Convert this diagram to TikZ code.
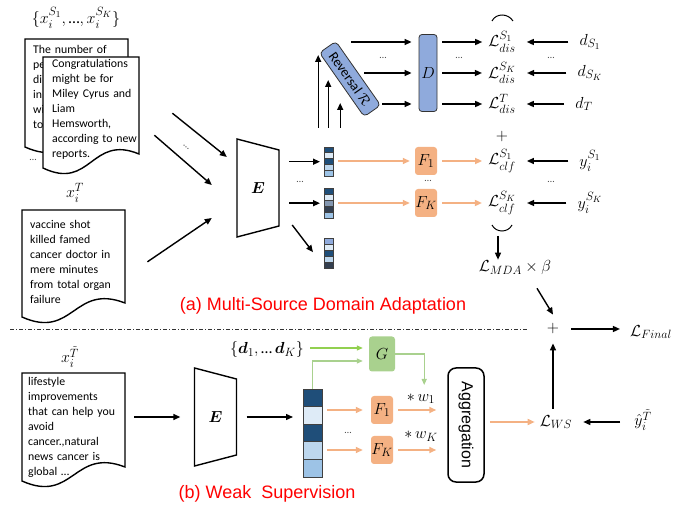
\RequirePackage{fix-cm}
\documentclass[tikz,border=0pt]{standalone}
\usepackage{amsmath,bm}
\usepackage{fontspec}
\setmainfont{Carlito}
\newfontfamily\arialfont{Liberation Sans}
\usetikzlibrary{arrows.meta, positioning, calc}
\DeclareMathSizes{16}{16}{12}{9}

\definecolor{navy}    {HTML}{1F4E79}
\definecolor{pale}    {HTML}{DEEBF7}
\definecolor{skyb}    {HTML}{BDD7EE}
\definecolor{midb}    {HTML}{9DC3E6}
\definecolor{slate}   {HTML}{8497B0}
\definecolor{charc}   {HTML}{333F50}
\definecolor{peri}    {HTML}{8FAADC}
\definecolor{orangebox}{HTML}{F4B183}
\definecolor{orangeln}{HTML}{F4B183}
\definecolor{greenbox}{HTML}{A9D18E}
\definecolor{greenln} {HTML}{A9D18E}
\definecolor{greenhi} {HTML}{92D050}
\definecolor{capred}  {HTML}{FF0000}

\tikzset{
  arr/.style     = {-{Triangle[length=7pt,width=6pt]}, line width=1.4pt},
  oarr/.style    = {arr, draw=orangeln, line width=1.6pt},
  garr/.style    = {-{Triangle[length=6pt,width=5pt]}, line width=1.3pt, draw=greenln},
  paper/.style   = {draw, line width=1.4pt, fill=white},
  enc/.style     = {draw, line width=1.4pt, fill=white},
  encname/.style = {minimum width=42pt, minimum height=77pt, inner sep=0,
                    font=\fontsize{16}{18}\selectfont},
  doctext/.style = {anchor=north west, inner sep=0, text width=100pt, align=left,
                    font=\fontsize{11.8}{15}\selectfont},
  lab/.style     = {inner sep=1pt, font=\fontsize{16}{18}\selectfont},
  dots/.style    = {inner sep=0, font=\fontsize{10}{10}\selectfont, text=black!70},
  cell/.style    = {draw=black!75, line width=0.6pt},
  revbox/.style  = {draw=black!80, line width=0.8pt, fill=peri, rounded corners=4pt,
                    minimum width=78pt, minimum height=20pt, inner sep=1pt,
                    font=\fontsize{14}{16}\selectfont},
  dbox/.style    = {draw=black!80, line width=0.8pt, fill=peri, rounded corners=3pt,
                    minimum width=18pt, minimum height=77pt, inner sep=0,
                    font=\fontsize{16}{18}\selectfont},
  fbox/.style    = {fill=orangebox, rounded corners=3pt, minimum width=22pt,
                    minimum height=28pt, inner sep=0, font=\fontsize{16}{18}\selectfont},
  gbox/.style    = {fbox, fill=greenbox, minimum width=26pt, minimum height=35pt},
  aggbox/.style  = {draw, line width=1.5pt, rounded corners=8pt, fill=white,
                    minimum width=114pt, minimum height=36pt, inner sep=0,
                    font=\arialfont\fontsize{16}{18}\selectfont},
  captxt/.style  = {text=capred, inner sep=0, font=\arialfont\fontsize{18}{20}\selectfont},
  divider/.style = {line width=0.8pt, draw=black!80,
                    dash pattern=on 4pt off 2pt on 1pt off 2pt},
  arcline/.style = {line width=1pt},
}

% sheet of text with a wavy lower edge: left, top, right, bottom-left
\newcommand{\paper}[4]{%
  \draw[paper] ({#1},{#4}) -- ({#1},{#2}) -- ({#3},{#2}) -- ({#3},{#4-14})
    .. controls ({(#1+#3)/2},{#4-34}) and ({(#1+#3)/2},{#4+23}) .. ({#1},{#4}) -- cycle;}

% encoder trapezoid: name, centre x, centre y
\newcommand{\encoder}[3]{%
  \draw[enc] ({#2-21},{#3-49}) -- ({#2+21},{#3-38}) -- ({#2+21},{#3+38})
    -- ({#2-21},{#3+49}) -- cycle;
  \node[encname] (#1) at (#2,#3) {$\bm{E}$};}

% feature vector: name, left, top, width, cell height, colours
\newcommand{\fvec}[6]{%
  \foreach \cc [count=\ii from 0] in {#6}
    \draw[cell, fill=\cc] ({#2},{#3+\ii*#5}) rectangle ++(#4,#5);
  \node[inner sep=0, minimum width=#4pt, minimum height={5*#5pt},
        anchor=north west] (#1) at (#2,#3) {};}

\begin{document}
\begin{tikzpicture}[x=1pt, y=-1pt]
  \useasboundingbox (0,0) rectangle (699,510);

  % source and target inputs
  \node[lab] (xsrc) at (76,18) {$\{x_i^{S_1},\text{\ldots},x_i^{S_K}\}$};
  \paper{25}{39}{128}{147}
  \node[doctext] (srcB) at (33,45) {The number of\\pe\\di\\in\\wi\\to};
  \paper{43}{57}{139}{168}
  \node[doctext] (srcF) at (52,59)
    {Congratulations\\might be for\\Miley Cyrus and\\Liam\\Hemsworth,\\according to new\\reports.};
  \node[dots] at (33,160) {\ldots};

  \node[lab] (xtgt) at (75,193) {$x_i^{T}$};
  \paper{22}{210}{125}{317}
  \node[doctext] (docT) at (30,220)
    {vaccine shot\\killed famed\\cancer doctor in\\mere minutes\\from total organ\\failure};

  \encoder{E1}{258}{188}
  \draw[arr] ($(srcF.east)+(20,4)$) -- ($(E1.west)+(-10,-31)$);
  \draw[arr] ($(srcF.east)+(2,26)$) -- ($(E1.west)+(-25,-3)$);
  \node[dots, rotate=-40] at (186,147) {\ldots};
  \draw[arr] ($(docT.east)+(17,0)$) -- ($(E1.west)+(-25,30)$);

  % features
  \fvec{v1}{324}{147}{9}{5.8}{navy,pale,navy,skyb,midb}
  \fvec{v2}{324}{188}{9}{6}{navy,pale,slate,charc,midb}
  \fvec{v3}{324}{238}{9}{6}{peri,pale,navy,skyb,charc}
  \draw[arr, shorten <=10pt, shorten >=4pt] (E1.east |- v1) -- (v1.west);
  \draw[arr, shorten <=10pt, shorten >=4pt] (E1.east |- v2) -- (v2.west);
  \node[dots] at (300,182) {\ldots};
  \draw[arr] ($(E1.east)+(13,37)$) -- ($(v3.west)+(-11,-1)$);

  \draw[arr] ($(v1.north)+(-10.5,-19)$) -- ($(v1.north)+(-10.5,-92)$);
  \draw[arr] ($(v1.north)+(-0.5,-19)$) -- ($(v1.north)+(-0.5,-67)$);
  \draw[arr] ($(v1.north)+(11.5,-19)$) -- ($(v1.north)+(11.5,-44)$);

  % domain discriminator
  \node[revbox, rotate=-55] (rev) at (350,79) {Reversal $\mathcal{R}$};
  \node[dbox] (D) at (428,73) {$D$};
  \coordinate (r1) at ($(rev)+(1,-37)$);
  \coordinate (r2) at ($(rev)+(14,-6)$);
  \coordinate (r3) at ($(rev)+(32,25)$);
  \foreach \r in {r1,r2,r3}
    \draw[arr, shorten >=7pt] (\r) -- (\r -| D.west);
  \node[dots] at (383,58) {\ldots};
  \node[dots] at (459,58) {\ldots};

  % losses
  \node[lab] (Ldis1) at (502,42)  {$\mathcal{L}_{dis}^{S_1}$};
  \node[lab] (LdisK) at (502,73)  {$\mathcal{L}_{dis}^{S_K}$};
  \node[lab] (LdisT) at (502,104) {$\mathcal{L}_{dis}^{T}$};
  \node[lab] (plus1) at (502,137) {$+$};
  \node[lab] (Lclf1) at (502,161) {$\mathcal{L}_{clf}^{S_1}$};
  \node[lab] (LclfK) at (502,203) {$\mathcal{L}_{clf}^{S_K}$};
  \foreach \nm in {Ldis1,LdisK,LdisT}
    \draw[arr, shorten <=5pt, shorten >=5pt] (D.east |- \nm) -- (\nm);

  \node[lab] (dS1) at (590,42)  {$d_{S_1}$};
  \node[lab] (dSK) at (590,73)  {$d_{S_K}$};
  \node[lab] (dT)  at (584,104) {$d_T$};
  \node[lab] (yS1) at (590,161) {$y_i^{S_1}$};
  \node[lab] (ySK) at (590,203) {$y_i^{S_K}$};
  \foreach \a/\b in {dS1/Ldis1, dSK/LdisK, dT/LdisT, yS1/Lclf1, ySK/LclfK}
    \draw[arr, shorten <=10pt, shorten >=10pt] (\a) -- (\b);
  \node[dots] at (551,58) {\ldots};
  \node[dots] at (551,182) {\ldots};

  % classifiers
  \node[fbox] (F1) at (426,161) {$F_1$};
  \node[fbox] (FK) at (426,203) {$F_K$};
  \draw[oarr, shorten <=5pt, shorten >=5pt] (v1.east |- F1) -- (F1);
  \draw[oarr, shorten <=5pt, shorten >=5pt] (v2.east |- FK) -- (FK);
  \draw[oarr, shorten <=5pt, shorten >=5pt] (F1) -- (Lclf1);
  \draw[oarr, shorten <=5pt, shorten >=5pt] (FK) -- (LclfK);
  \node[dots] at (428,181) {\ldots};

  \draw[arcline] ($(Ldis1)+(-10,-21)$) .. controls ($(Ldis1)+(-6,-29)$)
    and ($(Ldis1)+(6,-29)$) .. ($(Ldis1)+(11,-21)$);
  \draw[arcline] ($(LclfK)+(-10,22)$) .. controls ($(LclfK)+(-6,30)$)
    and ($(LclfK)+(6,30)$) .. ($(LclfK)+(10,22)$);
  \node[lab] (LMDA) at (515,268) {$\mathcal{L}_{MDA}\times\beta$};
  \coordinate (mda) at ($(LclfK)+(-4,33)$);
  \draw[arr] (mda) -- (mda |- LMDA.north);

  \node[captxt] (capA) at (323,306) {(a) Multi-Source Domain Adaptation};

  % final objective
  \draw[divider] (10,329) -- (528,329);
  \node[lab] (plus2) at (553,329) {$+$};
  \node[lab] (LFinal) at (651,332) {$\mathcal{L}_{Final}$};
  \draw[arr, shorten <=11pt, shorten >=9pt] (plus2) -- (plus2 -| LFinal.west);
  \draw[arr] ($(LMDA.south)+(22,12)$) -- ($(plus2.north)+(0,-8)$);

  % weak supervision
  \node[lab] (xTt) at (70,357) {$x_i^{\tilde{T}}$};
  \paper{22}{373}{125}{481}
  \node[doctext] (docW) at (28,377)
    {lifestyle\\improvements\\that can help you\\avoid\\cancer.,natural\\news cancer is\\global \ldots};

  \encoder{E2}{215.5}{417}
  \draw[arr, shorten <=6pt, shorten >=14pt] (docW.east |- E2) -- (E2.west);

  \fvec{vb}{303}{389}{19}{17.6}{navy,pale,navy,skyb,midb}
  \draw[arr, shorten <=10pt, shorten >=10pt] (E2.east) -- (E2.east -| vb.west);

  \node[lab] (dset) at (267,350) {$\{\bm{d}_1,\text{\ldots}\,\bm{d}_K\}$};
  \node[gbox] (G) at (382,354) {$G$};
  \draw[garr, draw=greenhi] ($(dset.east)+(5,-2)$) -- ($(G.west)+(-6,-6)$);
  \draw[garr] (vb.north) |- ($(G.west)+(-6,7)$);
  \draw[garr] (G.east) -| ($(G.east)+(29,31)$);

  \node[fbox] (F1b) at (382,410) {$F_1$};
  \node[fbox] (FKb) at (382,450) {$F_K$};
  \draw[oarr, shorten <=5pt, shorten >=8pt] (vb.east |- F1b) -- (F1b);
  \draw[oarr, shorten <=5pt, shorten >=8pt] (vb.east |- FKb) -- (FKb);
  \node[dots] at (348,433) {\ldots};

  \node[aggbox, rotate=-90] (agg) at (466,425) {Aggregation};
  \draw[oarr, shorten <=5pt, shorten >=11pt] (F1b) -- (F1b -| agg.south);
  \draw[oarr, shorten <=5pt, shorten >=11pt] (FKb) -- (FKb -| agg.south);
  \node[lab] (w1) at (421,399) {$*\,w_1$};
  \node[lab] (wK) at (421,436) {$*\,w_K$};

  \node[lab] (LWS) at (556,422) {$\mathcal{L}_{WS}$};
  \draw[oarr, shorten <=5pt, shorten >=4pt] (agg.north |- LWS) -- (LWS);
  \node[lab] (yhat) at (643,420) {$\hat{y}_i^{\tilde{T}}$};
  \draw[arr, shorten <=13pt, shorten >=10pt] (yhat.west |- LWS) -- (LWS);
  \draw[arr, shorten <=5pt, shorten >=8pt] (plus2 |- LWS.north) -- (plus2);

  \node[captxt] (capB) at (267,494) {(b) Weak\ \ Supervision};

\end{tikzpicture}
\end{document}
